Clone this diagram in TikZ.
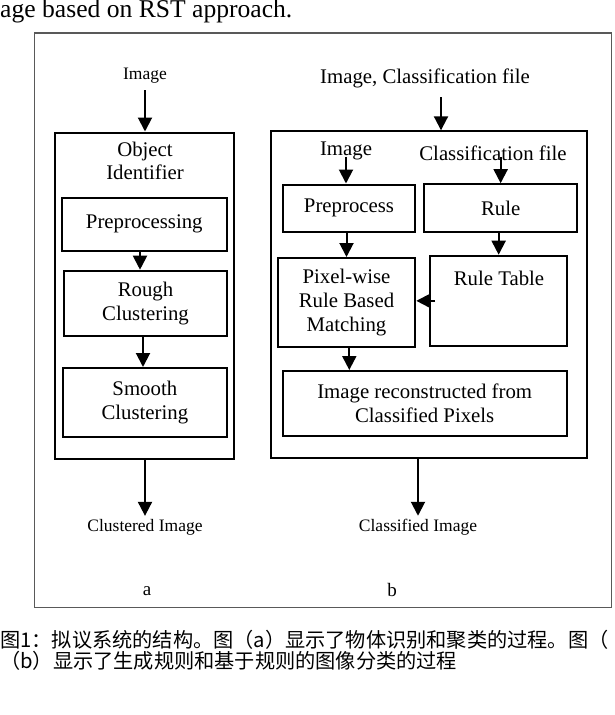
\documentclass[tikz,border=0pt]{standalone}
\usepackage{fontspec}
\setmainfont{Liberation Serif}
\newfontfamily\cjk{Noto Sans CJK SC}
\usetikzlibrary{arrows.meta}
\tikzstyle{box}=[draw,line width=2pt,align=center,inner sep=0pt,font=\fontsize{20.8}{24}\selectfont]
\tikzstyle{txt}=[inner sep=3pt,align=center,font=\fontsize{20.8}{23.3}\selectfont]
\tikzstyle{small}=[inner sep=3pt,font=\fontsize{17.5}{20}\selectfont]
\tikzstyle{arr}=[-{Triangle[length=14pt,width=14pt]},line width=2pt]

\begin{document}
\begin{tikzpicture}[x=1pt,y=-1pt]
  \useasboundingbox (0,0) rectangle (614,715);
  \node[anchor=base west,inner sep=0pt,font=\fontsize{25.6}{28}\selectfont] (head) at (0,17.5) {age based on RST approach.};
  \draw[line width=1.3pt,draw=black!65] (34.5,33) rectangle (611.5,607.7);

  % left part (a)
  \node[small] (imga) at (145,75.5) {Image};
  \node[box,minimum width=179pt,minimum height=326.5pt] (boxa) at (144.5,295.75) {};
  \node[txt,inner sep=0pt] (obj) at (145,160.6) {Object\\Identifier};
  \node[box,minimum width=165pt,minimum height=52.8pt] (prep) at (144.3,224.1) {Preprocessing};
  \node[box,minimum width=163pt,minimum height=65pt] (rough) at (145.5,303.2) {Rough\\Clustering};
  \node[box,minimum width=163.7pt,minimum height=68.7pt] (smooth) at (144.85,402.35) {Smooth\\Clustering};
  \node[small] (clu) at (145,527) {Clustered Image};
  \node[txt,font=\fontsize{19}{22}\selectfont] (la) at (147,591.6) {a};

  % right part (b)
  \node[txt] (topb) at (425,78.3) {Image, Classification file};
  \node[box,minimum width=316pt,minimum height=327pt] (boxb) at (429.3,294.8) {};
  \node[txt] (imgb) at (346,151.3) {Image};
  \node[txt] (clsf) at (493,152.8) {Classification file};
  \node[box,minimum width=132.6pt,minimum height=47pt] (prepb) at (349,208) {Preprocess};
  \node[box,minimum width=153.3pt,minimum height=47.5pt] (rule) at (500.65,207.95) {Rule};
  \node[box,minimum width=137.6pt,minimum height=88.7pt] (pix) at (346.5,302.35) {Pixel-wise\\Rule Based\\Matching};
  \node[box,minimum width=137.3pt,minimum height=90.3pt] (rt) at (498.65,300.85) {};
  \node[txt] (rtt) at (499,278) {Rule Table};
  \node[box,minimum width=284pt,minimum height=65pt] (recon) at (424.7,403.5) {Image reconstructed from\\Classified Pixels};
  \node[small] (cls) at (418,527) {Classified Image};
  \node[txt,font=\fontsize{19}{22}\selectfont] (lb) at (392,590) {b};

  \node[anchor=north west,inner sep=0pt,align=left,font=\cjk\fontsize{20.2}{21.5}\selectfont] (cap) at (0,630)
    {图1：拟议系统的结构。图（a）显示了物体识别和聚类的过程。图（\\（b）显示了生成规则和基于规则的图像分类的过程};

  \path[arr]
    (imga) edge[shorten <=4pt] (boxa.north -| imga)
    (prep.south -| 140,0) edge (rough.north -| 140,0)
    (rough.south -| 143,0) edge (smooth.north -| 143,0)
    (boxa.south -| clu) edge (clu)
    (topb.south -| 441,0) edge[shorten <=6pt] (boxb.north -| 441,0)
    ([yshift=-5.5pt]imgb.center) edge (prepb.north -| imgb)
    (rule.north |- 0,157) edge (rule.north)
    (pix.north |- prepb.south) edge (pix.north)
    (rt.north |- rule.south) edge (rt.north)
    ([xshift=6pt]rt.west) edge (pix.east |- rt.west)
    (pix.south -| 349.3,0) edge (recon.north -| 349.3,0)
    (boxb.south -| cls) edge (cls);
\end{tikzpicture}
\end{document}
